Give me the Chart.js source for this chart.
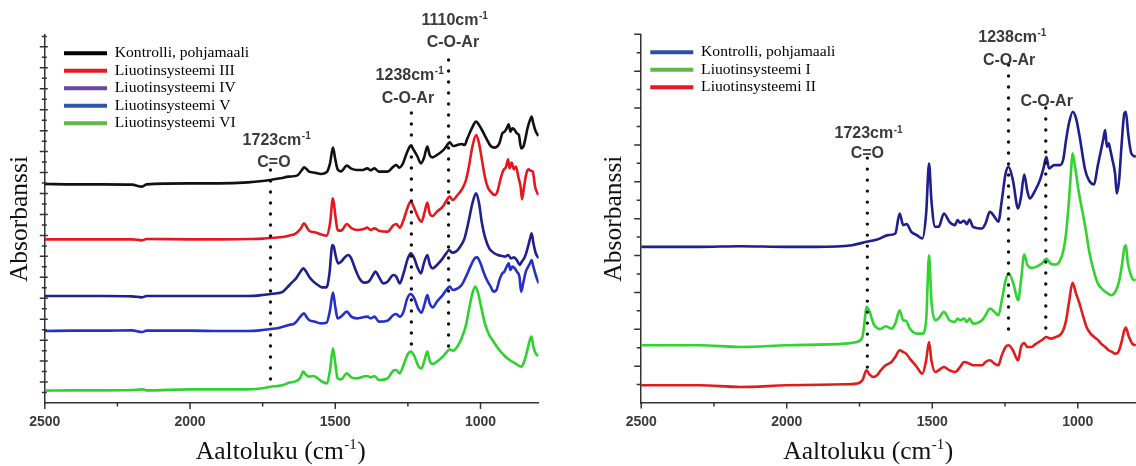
<!DOCTYPE html>
<html>
<head>
<meta charset="utf-8">
<script src="https://cdn.jsdelivr.net/npm/chart.js@4.4.1/dist/chart.umd.min.js"></script>
<style>
  html, body { margin: 0; padding: 0; background: #ffffff; }
  #wrap { position: relative; width: 1136px; height: 466px; overflow: hidden; background: #ffffff; }
  .panel { position: absolute; top: 0; width: 568px; height: 466px; }
  #pLeft { left: 0; }
  #pRight { left: 568px; }
</style>
</head>
<body>
<div id="wrap">
  <div class="panel" id="pLeft"><canvas id="cLeft" width="568" height="466"></canvas></div>
  <div class="panel" id="pRight"><canvas id="cRight" width="568" height="466"></canvas></div>
</div>
<script>
// ---------- x axis (wavenumber, cm-1) ----------
const xTickValues = [2500, 2250, 2000, 1750, 1500, 1250, 1000];
const xTickLabels = ['2500', '2000', '1500', '1000'];

// ---------- left panel: control and solvent systems III-VI (stacked, arbitrary units) ----------
const leftLabels = ['Kontrolli, pohjamaali', 'Liuotinsysteemi III', 'Liuotinsysteemi IV', 'Liuotinsysteemi V', 'Liuotinsysteemi VI'];

const kontrolliWn = [2500,2400,2300,2200,2165,2150,2000,1900,1800,1750,1723,1690,1660,1630,1615,1607,1598,1590,1570,1550,1530,1518,1508,1500,1492,1480,1460,1445,1425,1405,1390,1378,1365,1350,1320,1300,1290,1280,1268,1252,1240,1230,1218,1205,1195,1183,1175,1165,1150,1130,1120,1106,1095,1080,1065,1055,1045,1030,1015,1005,995,980,965,950,935,925,917,910,903,897,890,882,875,868,860,852,845,838,830,824,818,810,800];
const kontrolliAbs = [657,656,656,655,649,656,659,659,662,666,669,674,679,683,699,707,701,694,691,687,692,719,766,731,701,695,712,703,699,699,704,698,704,694,694,709,714,706,717,754,772,759,741,719,734,769,744,737,744,757,767,782,771,774,777,774,794,824,844,834,819,794,771,766,779,809,814,824,836,814,824,819,809,804,764,770,795,825,848,859,838,815,801];

const sys3Wn = [2500,2400,2300,2200,2165,2150,2000,1900,1800,1750,1723,1690,1660,1635,1618,1608,1598,1590,1570,1550,1530,1518,1508,1500,1492,1480,1460,1445,1425,1405,1390,1378,1365,1350,1320,1300,1290,1278,1265,1250,1240,1228,1213,1203,1192,1183,1175,1165,1150,1130,1118,1106,1096,1080,1062,1050,1040,1028,1015,1005,995,985,975,965,952,942,932,922,912,905,900,893,885,878,870,862,857,850,842,835,827,820,812,805,800];
const sys3Abs = [491,491,491,491,488,492,491,491,492,493,495,497,502,509,524,539,527,517,512,506,502,539,614,564,519,517,537,525,519,521,526,519,524,517,514,533,537,526,549,589,604,584,554,544,574,601,569,561,574,589,606,619,609,623,644,669,709,769,804,779,729,679,647,634,624,634,669,697,709,731,704,721,701,709,679,649,611,649,689,701,697,694,649,631,624];

const sys4Wn = [2500,2400,2300,2200,2165,2150,2000,1900,1800,1750,1723,1700,1680,1665,1650,1635,1620,1610,1600,1590,1575,1560,1545,1530,1520,1510,1505,1498,1490,1480,1465,1455,1445,1430,1415,1400,1385,1370,1362,1350,1335,1320,1300,1290,1278,1265,1250,1240,1228,1218,1205,1195,1183,1175,1165,1150,1130,1118,1108,1098,1085,1070,1055,1040,1028,1015,1005,995,985,970,955,940,925,915,905,895,885,875,865,858,850,843,835,829,824,818,810,800];
const sys4Abs = [321,321,321,320,317,321,321,321,321,324,327,329,334,347,361,374,394,404,394,379,364,354,347,347,389,474,469,439,419,424,439,444,434,399,371,361,364,384,394,379,359,364,384,379,359,389,434,449,434,409,389,419,444,417,404,414,434,449,459,451,454,469,494,549,599,629,599,539,499,464,451,444,441,439,444,434,437,429,414,424,434,449,474,495,509,480,450,434];

const sys5Wn = [2500,2400,2300,2200,2165,2150,2000,1900,1800,1750,1723,1700,1680,1660,1640,1620,1608,1598,1590,1570,1550,1530,1518,1508,1500,1492,1480,1460,1445,1425,1405,1390,1378,1365,1350,1320,1300,1290,1278,1265,1252,1240,1228,1215,1203,1192,1183,1175,1165,1150,1130,1118,1106,1095,1080,1065,1050,1035,1020,1012,1000,990,978,965,955,945,935,925,918,910,903,897,890,882,875,866,860,852,844,836,829,824,818,810,800];
const sys5Abs = [216,217,217,218,213,217,217,216,216,219,222,224,229,234,239,259,269,257,249,244,239,241,279,331,289,254,259,274,259,254,257,259,254,259,244,247,264,267,259,274,314,327,314,284,271,299,324,299,287,304,324,339,349,339,343,354,379,409,434,437,419,394,369,349,334,339,369,389,394,409,419,399,409,404,394,379,334,364,394,409,420,429,409,384,359];

const sys6Wn = [2500,2400,2300,2200,2165,2150,2000,1900,1800,1750,1723,1700,1680,1660,1640,1622,1610,1600,1590,1575,1560,1545,1530,1518,1508,1500,1492,1480,1460,1445,1425,1405,1390,1378,1365,1350,1320,1300,1290,1278,1265,1250,1240,1228,1213,1203,1192,1183,1175,1165,1150,1130,1118,1106,1095,1080,1065,1050,1040,1028,1018,1008,998,985,970,955,940,920,900,880,860,850,840,830,824,818,810,800];
const sys6Abs = [37,38,38,39,41,38,41,41,41,44,49,51,54,61,64,74,94,84,79,81,74,64,59,99,164,119,74,71,89,77,74,79,81,77,81,69,74,97,99,89,114,147,154,141,109,104,131,154,127,117,124,139,151,161,157,169,194,234,279,329,349,329,289,239,204,184,164,144,129,119,109,124,154,189,199,169,149,141];

// ---------- right panel: control and solvent systems I-II ----------
const rightLabels = ['Kontrolli, pohjamaali', 'Liuotinsysteemi I', 'Liuotinsysteemi II'];

const controlWn = [2500,2400,2300,2161,2000,1900,1776,1726,1689,1652,1627,1612,1600,1588,1572,1553,1534,1521,1511,1503,1490,1478,1460,1441,1422,1413,1404,1391,1381,1372,1360,1329,1317,1302,1286,1273,1261,1248,1238,1223,1205,1195,1184,1174,1165,1149,1130,1118,1108,1099,1081,1062,1050,1040,1030,1017,1006,994,975,962,944,932,925,913,906,900,894,888,882,872,866,858,850,840,835,827,816,801];
const controlAbs = [468,468,468,470,468,468,473,483,490,503,508,568,533,536,513,503,493,568,718,608,528,528,568,543,533,548,540,546,536,550,528,523,538,573,558,543,608,688,708,668,583,618,685,638,613,633,668,703,738,703,713,713,730,790,840,873,853,800,700,668,655,708,738,788,818,768,778,758,733,688,628,668,768,868,873,808,748,738];

const sys1Wn = [2500,2400,2300,2161,2000,1800,1760,1740,1732,1726,1715,1702,1690,1677,1660,1640,1627,1612,1600,1590,1577,1553,1534,1521,1511,1503,1490,1478,1460,1441,1422,1413,1404,1391,1381,1372,1360,1329,1317,1302,1286,1273,1261,1248,1238,1223,1210,1205,1195,1184,1174,1160,1143,1124,1108,1093,1075,1062,1050,1040,1030,1022,1018,1008,998,990,981,971,960,948,932,914,900,885,870,858,848,840,835,828,818,810,801];
const sys1Abs = [173,173,173,168,173,178,183,198,248,288,273,238,225,222,230,223,238,278,248,246,223,208,208,248,443,308,248,253,273,248,243,253,248,253,243,253,238,248,263,283,273,263,308,368,388,363,318,308,368,445,415,405,408,418,432,418,415,425,455,510,610,710,748,700,640,600,560,510,450,405,360,340,330,323,335,365,415,465,473,420,385,370,368];

const sys2Wn = [2500,2400,2300,2161,2000,1800,1760,1740,1726,1715,1702,1690,1677,1660,1640,1627,1612,1600,1590,1577,1553,1534,1521,1511,1503,1490,1478,1460,1441,1422,1404,1391,1372,1360,1329,1317,1302,1286,1273,1261,1248,1238,1223,1210,1205,1195,1184,1174,1160,1143,1124,1108,1093,1075,1062,1050,1040,1030,1018,1006,994,981,970,956,944,932,920,906,894,882,872,863,851,840,835,825,813,801];
const sys2Abs = [53,53,53,48,53,56,58,68,98,85,78,83,98,113,123,138,158,153,148,133,108,88,128,183,128,93,98,108,98,93,108,123,118,113,113,123,128,118,113,143,168,173,158,133,128,168,180,168,168,178,188,198,193,198,203,218,248,303,360,328,298,258,228,208,198,190,178,168,158,153,148,150,178,218,226,200,178,173];

// ---------- band markers (dotted guides) and their captions ----------
const leftBandWn = [1723, 1238, 1110];
const leftBandTop = [699, 870, 1029];
const leftBandBottom = [48, 153, 168];
const leftNoteText = ['1723cm', 'C=O', '1238cm', 'C-O-Ar', '1110cm', 'C-O-Ar'];
const leftNoteSup = ['-1', '', '-1', '', '-1', ''];
const leftNoteWn = [1701, 1711, 1243, 1250, 1088, 1095];
const leftNoteAbs = [792, 726, 987, 916, 1152, 1086];

const rightBandWn = [1723, 1238, 1110];
const rightBandTop = [734, 1013, 884];
const rightBandBottom = [80, 194, 212];
const rightNoteText = ['1723cm', 'C=O', '1238cm', 'C-O-Ar', 'C-O-Ar'];
const rightNoteSup = ['-1', '', '-1', '', ''];
const rightNoteWn = [1718, 1723, 1224, 1236, 1107];
const rightNoteAbs = [810, 750, 1100, 1031, 908];

// ---------- styling ----------
const SERIF = "'Liberation Serif', 'Times New Roman', serif";
const SANS = "'Liberation Sans', Arial, sans-serif";
const AXIS_INK = '#333333';
const leftLineColors = ['#111111', '#e3191f', '#1f1f8f', '#2430c8', '#2fd12f'];
const leftSwatches = ['#000000', '#e8161e', '#6b44a3', '#2c57a8', '#5fb848'];
const rightLineColors = ['#1e1e8e', '#30d330', '#e01c1c'];
const rightSwatches = ['#2c4fa6', '#5fb848', '#e8161e'];

Chart.defaults.font.family = SANS;

function series(wn, val) {
  return wn.map((w, i) => ({ x: w, y: val[i] }));
}

// text with a raised suffix, centred on (cx, cy)
function drawSupText(ctx, main, sup, tail, cx, cy, family, size, supSize, weight, raise) {
  const f = `${weight} ${size}px ${family}`;
  const fs = `${weight} ${supSize}px ${family}`;
  ctx.font = f;
  const w1 = ctx.measureText(main).width;
  const w3 = tail ? ctx.measureText(tail).width : 0;
  ctx.font = fs;
  const w2 = sup ? ctx.measureText(sup).width + 1 : 0;
  let xx = cx - (w1 + w2 + w3) / 2;
  const base = cy + size * 0.35;
  ctx.textAlign = 'left';
  ctx.textBaseline = 'alphabetic';
  ctx.font = f;
  ctx.fillText(main, xx, base);
  xx += w1;
  if (sup) {
    ctx.font = fs;
    ctx.fillText(sup, xx + 0.5, base - size * raise);
    xx += w2;
  }
  if (tail) {
    ctx.font = f;
    ctx.fillText(tail, xx, base);
  }
}

// minor/major tick marks on both axes
const tickMarks = {
  id: 'tickMarks',
  afterDraw(chart, _args, o) {
    const { ctx, chartArea: a, scales: { x, y } } = chart;
    ctx.save();
    ctx.strokeStyle = o.color;
    ctx.lineWidth = o.width;
    ctx.beginPath();
    for (const v of xTickValues) {
      const px = x.getPixelForValue(v);
      const major = xTickLabels.includes(String(v));
      ctx.moveTo(px, a.bottom - (major ? o.xMajorIn : o.xMinorIn));
      ctx.lineTo(px, a.bottom + (major ? o.xMajorOut : o.xMinorOut));
    }
    const half = o.yStep / 2;
    for (let k = 1; k * half <= y.max + 1e-6; k++) {
      const py = y.getPixelForValue(k * half);
      const major = k % 2 === 0;
      ctx.moveTo(a.left - (major ? o.yMajorOut : o.yMinorOut), py);
      ctx.lineTo(a.left + (major ? o.yMajorIn : o.yMinorIn), py);
    }
    ctx.stroke();
    ctx.restore();
  }
};

// dotted band guides with their captions
const bandMarks = {
  id: 'bandMarks',
  afterDatasetsDraw(chart, _args, o) {
    const { ctx, scales: { x, y } } = chart;
    ctx.save();
    ctx.strokeStyle = o.dotColor;
    ctx.lineWidth = o.dotSize;
    ctx.lineCap = 'round';
    ctx.setLineDash([0, o.dotGap]);
    o.wn.forEach((w, i) => {
      const px = x.getPixelForValue(w);
      ctx.beginPath();
      ctx.moveTo(px, y.getPixelForValue(o.top[i]));
      ctx.lineTo(px, y.getPixelForValue(o.bottom[i]));
      ctx.stroke();
    });
    ctx.setLineDash([]);
    ctx.fillStyle = o.textColor;
    o.noteText.forEach((t, i) => {
      drawSupText(ctx, t, o.noteSup[i], '', x.getPixelForValue(o.noteWn[i]), y.getPixelForValue(o.noteAbs[i]),
        SANS, o.size, o.supSize, o.weight, 0.36);
    });
    ctx.restore();
  }
};

// x axis caption with superscript unit
const xCaption = {
  id: 'xCaption',
  afterDraw(chart, _args, o) {
    const { ctx, chartArea: a } = chart;
    ctx.save();
    ctx.fillStyle = o.color;
    drawSupText(ctx, 'Aaltoluku (cm', '-1', ')', a.left + (a.right - a.left) * o.at, chart.height - o.fromBottom,
      SERIF, o.size, o.supSize, 'normal', 0.36);
    ctx.restore();
  }
};

// keep the legend block tucked into the upper-left of the plot
const legendSpot = {
  id: 'legendSpot',
  beforeDraw(chart, _args, o) {
    const lg = chart.legend;
    if (!lg) return;
    const a = chart.chartArea;
    lg.left = a.left + o.dx;
    lg.top = a.top + o.dy;
    lg.right = a.right;
    lg.bottom = a.bottom;
  }
};

function buildChart(canvasId, cfg) {
  const datasets = cfg.labels.map((lab, i) => ({
    label: lab,
    data: series(cfg.wn[i], cfg.abs[i]),
    borderColor: cfg.colors[i],
    backgroundColor: cfg.colors[i],
    borderWidth: 2.6,
    pointRadius: 0,
    fill: false,
    cubicInterpolationMode: 'monotone'
  }));
  return new Chart(document.getElementById(canvasId), {
    type: 'line',
    data: { datasets },
    plugins: [tickMarks, bandMarks, xCaption, legendSpot],
    options: {
      responsive: false,
      animation: false,
      devicePixelRatio: 1,
      layout: { padding: cfg.padding },
      scales: {
        x: {
          type: 'linear',
          reverse: true,
          min: 800,
          max: 2500,
          afterBuildTicks: (s) => { s.ticks = xTickValues.map(v => ({ value: v })); },
          ticks: {
            autoSkip: false,
            maxRotation: 0,
            padding: 11,
            color: '#3a3a3a',
            font: { family: SANS, size: 14, weight: 'bold' },
            callback: (v) => (xTickLabels.includes(String(v)) ? String(v) : '')
          },
          grid: { display: false, drawTicks: false },
          border: { display: true, color: AXIS_INK, width: 1.5 }
        },
        y: {
          type: 'linear',
          min: 0,
          max: cfg.yMax,
          ticks: { display: false },
          grid: { display: false, drawTicks: false },
          border: { display: true, color: AXIS_INK, width: 1.5 },
          title: {
            display: true,
            text: 'Absorbanssi',
            color: '#111111',
            font: { family: SERIF, size: 25.5, lineHeight: 1.2 },
            padding: cfg.yTitlePad
          }
        }
      },
      plugins: {
        tooltip: { enabled: false },
        legend: {
          position: 'chartArea',
          align: 'start',
          labels: {
            boxWidth: 43,
            boxHeight: 4,
            padding: 1.9,
            color: '#000000',
            font: { family: SERIF, size: 15.6, lineHeight: 1.2 },
            generateLabels: (chart) => chart.data.datasets.map((d, i) => ({
              text: d.label,
              fillStyle: cfg.swatches[i],
              strokeStyle: cfg.swatches[i],
              lineWidth: 0,
              hidden: false,
              datasetIndex: i,
              fontColor: '#000000'
            }))
          }
        },
        legendSpot: cfg.legendSpot,
        tickMarks: Object.assign({ color: AXIS_INK, width: 1.5 }, cfg.ticks),
        bandMarks: {
          wn: cfg.bandWn, top: cfg.bandTop, bottom: cfg.bandBottom,
          noteText: cfg.noteText, noteSup: cfg.noteSup, noteWn: cfg.noteWn, noteAbs: cfg.noteAbs,
          dotColor: '#111111', dotSize: 3.4, dotGap: 11,
          textColor: '#3a3a3a', size: 16, supSize: 10, weight: 'bold'
        },
        xCaption: { at: cfg.captionAt, fromBottom: 16.4, size: 25.5, supSize: 15, color: '#111111' }
      }
    }
  });
}

buildChart('cLeft', {
  labels: leftLabels,
  wn: [kontrolliWn, sys3Wn, sys4Wn, sys5Wn, sys6Wn],
  abs: [kontrolliAbs, sys3Abs, sys4Abs, sys5Abs, sys6Abs],
  colors: leftLineColors,
  swatches: leftSwatches,
  yMax: 1104,
  padding: { left: 0, top: 35, right: 29.4, bottom: 24.2 },
  yTitlePad: { top: 4.7, bottom: 9.5 },
  legendSpot: { dx: 17.3, dy: 8.6 },
  ticks: { yStep: 62.85, xMajorIn: 0, xMajorOut: 6, xMinorIn: 0, xMinorOut: 3.5,
           yMajorOut: 5, yMajorIn: 3, yMinorOut: 3, yMinorIn: 2 },
  bandWn: leftBandWn, bandTop: leftBandTop, bandBottom: leftBandBottom,
  noteText: leftNoteText, noteSup: leftNoteSup, noteWn: leftNoteWn, noteAbs: leftNoteAbs,
  captionAt: 0.478
});

buildChart('cRight', {
  labels: rightLabels,
  wn: [controlWn, sys1Wn, sys2Wn],
  abs: [controlAbs, sys1Abs, sys2Abs],
  colors: rightLineColors,
  swatches: rightSwatches,
  yMax: 1105,
  padding: { left: 26, top: 34.3, right: 0, bottom: 24.2 },
  yTitlePad: { top: 4.7, bottom: 11.9 },
  legendSpot: { dx: 7.2, dy: 8.3 },
  ticks: { yStep: 110.5, xMajorIn: 0, xMajorOut: 5.5, xMinorIn: 0, xMinorOut: 3.5,
           yMajorOut: 7, yMajorIn: 0, yMinorOut: 4.5, yMinorIn: 0 },
  bandWn: rightBandWn, bandTop: rightBandTop, bandBottom: rightBandBottom,
  noteText: rightNoteText, noteSup: rightNoteSup, noteWn: rightNoteWn, noteAbs: rightNoteAbs,
  captionAt: 0.459
});
</script>
</body>
</html>
